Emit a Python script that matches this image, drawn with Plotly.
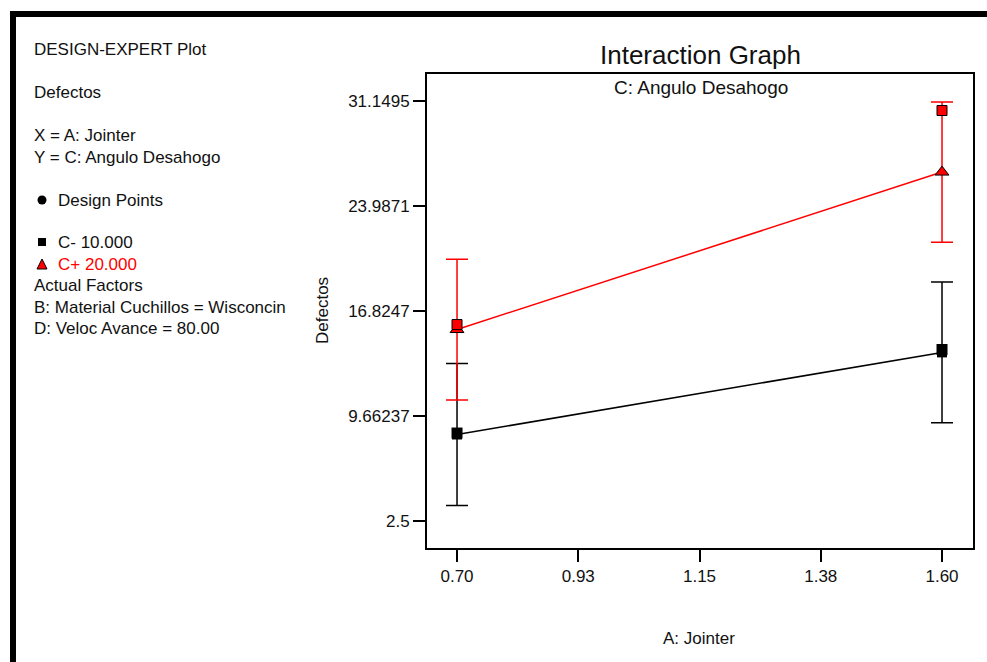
import plotly.graph_objects as go

# Factor A levels (Jointer) and model predictions for each level of C
jointer = [0.70, 1.60]
c_minus_pred = [8.4, 14.0]      # C- 10.000
c_minus_err = [4.84, 4.8]
c_plus_pred = [15.56, 26.3]     # C+ 20.000
c_plus_err = [4.8, 4.78]

# Observed design points
design_c_minus = [8.5, 14.2]
design_c_plus = [15.9, 30.5]

# Axis ticks
x_tickvals = [0.70, 0.925, 1.15, 1.375, 1.60]
x_ticktext = ["0.70", "0.93", "1.15", "1.38", "1.60"]
y_tickvals = [2.5, 9.66237, 16.8247, 23.9871, 31.1495]
y_ticktext = ["2.5", "9.66237", "16.8247", "23.9871", "31.1495"]

# Side panel text
header_lines = ["DESIGN-EXPERT Plot", "Defectos", "X = A: Jointer", "Y = C: Angulo Desahogo"]
legend_lines = ["Design Points", "C- 10.000", "C+ 20.000"]
factor_lines = ["Actual Factors", "B: Material Cuchillos = Wisconcin", "D: Veloc Avance = 80.00"]

RED = "#FF0000"
INK = "#111111"
FONT = "Liberation Sans, Arial, sans-serif"

# figure geometry (pixels)
FW, FH = 987, 662
PL, PR, PT, PB = 427, 973, 74, 548
PW, PH = PR - PL, PB - PT


def fx(px):
    return (px - PL) / PW


def fy(py):
    return (PB - py) / PH


fig = go.Figure()

fig.add_trace(go.Scatter(
    x=jointer, y=c_minus_pred, mode="lines+markers",
    line=dict(color="black", width=1.5),
    marker=dict(symbol="square", size=10, color="black"),
    error_y=dict(type="data", array=c_minus_err, color="black", thickness=1.5, width=11),
    showlegend=False, hoverinfo="skip"))

fig.add_trace(go.Scatter(
    x=jointer, y=c_plus_pred, mode="lines+markers",
    line=dict(color=RED, width=1.5),
    marker=dict(symbol="triangle-up", size=12, color=RED, line=dict(color="black", width=1)),
    error_y=dict(type="data", array=c_plus_err, color=RED, thickness=1.5, width=11),
    showlegend=False, hoverinfo="skip"))

fig.add_trace(go.Scatter(
    x=jointer, y=design_c_minus, mode="markers",
    marker=dict(symbol="square", size=11, color="black"),
    showlegend=False, hoverinfo="skip"))

fig.add_trace(go.Scatter(
    x=jointer, y=design_c_plus, mode="markers",
    marker=dict(symbol="square", size=10, color=RED, line=dict(color="black", width=1)),
    showlegend=False, hoverinfo="skip"))

axis_common = dict(
    showgrid=False, zeroline=False, showline=True, mirror=True,
    linecolor="black", linewidth=2, ticks="outside", ticklen=12,
    tickcolor="black", tickwidth=1.5,
    tickfont=dict(family=FONT, size=17, color=INK))

fig.update_xaxes(range=[0.6443, 1.6575], tickvals=x_tickvals, ticktext=x_ticktext,
                 **axis_common)
fig.update_yaxes(range=[0.658, 32.99], tickvals=y_tickvals, ticktext=y_ticktext,
                 **axis_common)

ann = []


def text(t, px, py, size=17, color=INK, anchor="left"):
    ann.append(dict(text=t, x=fx(px), y=fy(py), xref="paper", yref="paper",
                    xanchor=anchor, yanchor="middle", showarrow=False,
                    font=dict(family=FONT, size=size, color=color)))


for t, py in zip(header_lines, [50, 93, 136, 157]):
    text(t, 32, py)
for t, py, c in zip(legend_lines, [200, 242, 264], [INK, INK, RED]):
    text(t, 56, py, color=c)
for t, py in zip(factor_lines, [285, 307, 328]):
    text(t, 32, py)

text("Interaction Graph", 700, 55, size=26, anchor="center")
text("C: Angulo Desahogo", 701, 88, size=19, anchor="center")
text("A: Jointer", 699, 638, size=17, anchor="center")
ann.append(dict(text="Defectos", x=fx(322), y=fy(311), xref="paper", yref="paper",
                xanchor="center", yanchor="middle", showarrow=False, textangle=-90,
                font=dict(family=FONT, size=17, color=INK)))

shapes = []
# outer frame (top and left edges)
shapes.append(dict(type="rect", xref="paper", yref="paper", x0=fx(10), x1=fx(16),
                   y0=fy(FH), y1=fy(11), fillcolor="black", line=dict(width=0), layer="above"))
shapes.append(dict(type="rect", xref="paper", yref="paper", x0=fx(10), x1=fx(FW),
                   y0=fy(17), y1=fy(11), fillcolor="black", line=dict(width=0), layer="above"))
# legend symbols
shapes.append(dict(type="circle", xref="paper", yref="paper", x0=fx(37.5), x1=fx(46.5),
                   y0=fy(204.5), y1=fy(195.5), fillcolor="black", line=dict(width=0)))
shapes.append(dict(type="rect", xref="paper", yref="paper", x0=fx(38), x1=fx(46),
                   y0=fy(246), y1=fy(238), fillcolor="black", line=dict(width=0)))
tri = "M {} {} L {} {} L {} {} Z".format(fx(37), fy(269), fx(47), fy(269), fx(42), fy(259))
shapes.append(dict(type="path", xref="paper", yref="paper", path=tri,
                   fillcolor=RED, line=dict(color="black", width=1)))

fig.update_layout(
    width=FW, height=FH,
    margin=dict(l=PL, r=FW - PR, t=PT, b=FH - PB, pad=0),
    paper_bgcolor="white", plot_bgcolor="white",
    annotations=ann, shapes=shapes,
    font=dict(family=FONT, color=INK))

fig.write_html("out.html")
